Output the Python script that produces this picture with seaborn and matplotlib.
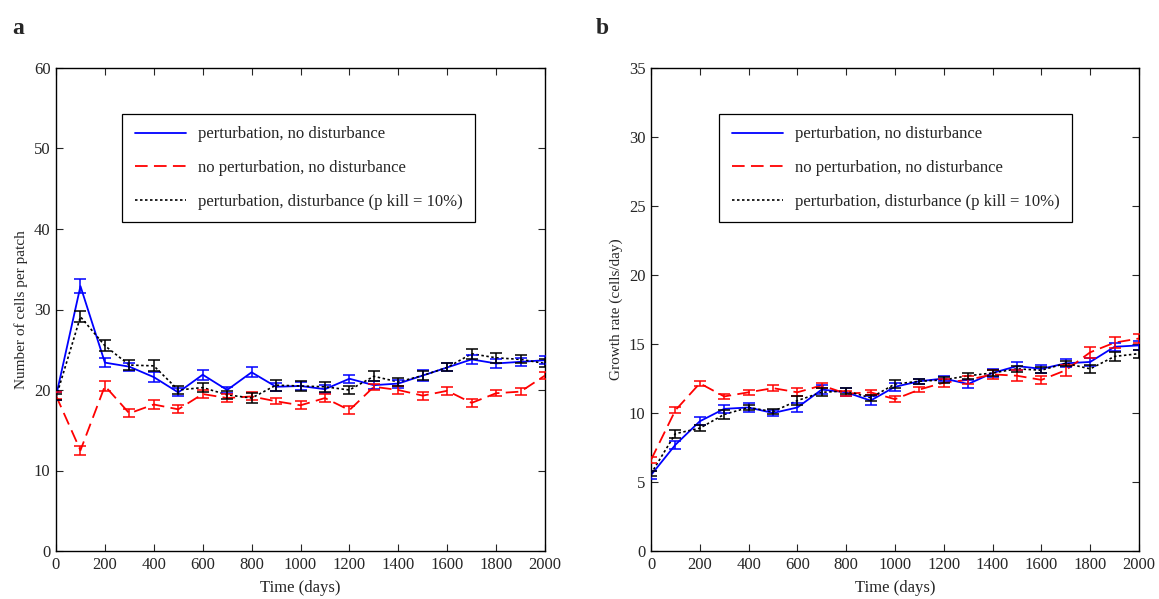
import numpy as np
import pandas as pd
import matplotlib
matplotlib.use("Agg")
import matplotlib.pyplot as plt
import seaborn as sns

days = [0, 100, 200, 300, 400, 500, 600, 700, 800, 900, 1000,
        1100, 1200, 1300, 1400, 1500, 1600, 1700, 1800, 1900, 2000]

labels = ["perturbation, no disturbance",
          "no perturbation, no disturbance",
          "perturbation, disturbance (p kill = 10%)"]

# Panel a: number of cells per patch
a_blue = [19.2, 32.9, 23.4, 22.9, 21.6, 19.7, 21.9, 20.0, 22.2, 20.4, 20.5,
          20.1, 21.4, 20.6, 20.8, 21.8, 22.8, 23.8, 23.3, 23.5, 23.7]
a_red = [19.3, 12.5, 20.5, 17.1, 18.2, 17.6, 19.5, 19.0, 19.2, 18.6, 18.1,
         19.0, 17.5, 20.4, 20.0, 19.3, 19.9, 18.4, 19.6, 19.8, 21.8]
a_black = [19.1, 29.1, 25.5, 23.1, 23.0, 20.0, 20.3, 19.4, 19.0, 20.6, 20.5,
           20.4, 20.0, 21.7, 21.0, 21.8, 22.8, 24.5, 24.0, 23.8, 23.3]
a_blue_err = [0.5, 0.9, 0.6, 0.5, 0.6, 0.5, 0.6, 0.4, 0.6, 0.5, 0.5,
              0.5, 0.5, 0.5, 0.5, 0.7, 0.5, 0.6, 0.6, 0.5, 0.5]
a_red_err = [0.4, 0.6, 0.6, 0.5, 0.5, 0.5, 0.5, 0.5, 0.5, 0.4, 0.5,
             0.5, 0.5, 0.4, 0.5, 0.5, 0.5, 0.5, 0.4, 0.4, 0.4]
a_black_err = [0.4, 0.7, 0.7, 0.6, 0.7, 0.5, 0.6, 0.5, 0.6, 0.7, 0.6,
               0.6, 0.5, 0.6, 0.5, 0.6, 0.5, 0.6, 0.6, 0.5, 0.5]

# Panel b: growth rate (cells/day)
b_blue = [5.5, 7.7, 9.4, 10.3, 10.4, 10.0, 10.4, 11.7, 11.5, 10.9, 11.9,
          12.3, 12.5, 12.1, 12.9, 13.4, 13.2, 13.6, 13.7, 14.8, 14.9]
b_red = [6.6, 10.2, 12.15, 11.2, 11.5, 11.8, 11.5, 12.0, 11.4, 11.5, 11.0,
         11.7, 12.2, 12.4, 12.8, 12.7, 12.4, 13.1, 14.4, 15.1, 15.4]
b_black = [5.6, 8.5, 8.9, 9.9, 10.4, 10.1, 10.9, 11.5, 11.6, 11.1, 12.1,
           12.3, 12.4, 12.7, 12.9, 13.2, 13.1, 13.6, 13.2, 14.1, 14.3]
b_blue_err = [0.3, 0.3, 0.3, 0.3, 0.3, 0.2, 0.3, 0.3, 0.3, 0.3, 0.3,
              0.2, 0.2, 0.3, 0.3, 0.3, 0.3, 0.3, 0.3, 0.3, 0.3]
b_red_err = [0.2, 0.2, 0.2, 0.2, 0.2, 0.2, 0.3, 0.2, 0.2, 0.2, 0.2,
             0.2, 0.3, 0.3, 0.3, 0.4, 0.3, 0.4, 0.4, 0.4, 0.3]
b_black_err = [0.2, 0.3, 0.2, 0.3, 0.2, 0.2, 0.3, 0.3, 0.2, 0.2, 0.3,
               0.2, 0.2, 0.2, 0.2, 0.2, 0.2, 0.2, 0.3, 0.3, 0.3]

sns.set_style("ticks")
plt.rcParams['font.family'] = ['Liberation Serif', 'DejaVu Serif']

fig = plt.figure(figsize=(11.59, 5.99), dpi=100)
W, H = 1159, 599
axa = fig.add_axes([56 / W, 1 - 551 / H, (545 - 56) / W, (551 - 68) / H])
axb = fig.add_axes([651 / W, 1 - 551 / H, (1139 - 651) / W, (551 - 68) / H])

styles = [("#0000ff", "-", 1.3), ("#ff0000", (0, (7, 3.5)), 1.3), ("black", (0, (1.5, 1.5)), 1.2)]


def draw(ax, ys, errs, ylim, yticks, ylabel, leg_anchor):
    rows = []
    for lab, y in zip(labels, ys):
        for d, v in zip(days, y):
            rows.append({"Time (days)": d, "value": v, "series": lab})
    df = pd.DataFrame(rows)
    for (col, ls, lw), lab, y, e in zip(styles, labels, ys, errs):
        sub = df[df["series"] == lab]
        sns.lineplot(data=sub, x="Time (days)", y="value", ax=ax, color=col,
                     linestyle=ls, linewidth=lw, label=lab, legend=False)
        ax.errorbar(days, y, yerr=e, fmt="none", ecolor=col, elinewidth=1.1,
                    capsize=4.5, capthick=1.1, zorder=3)
    ax.set_xlim(0, 2000)
    ax.set_ylim(*ylim)
    ax.set_xticks(range(0, 2001, 200))
    ax.set_yticks(yticks)
    ax.set_xlabel("Time (days)", fontsize=12, labelpad=5)
    ax.set_ylabel(ylabel, fontsize=11, labelpad=4)
    ax.tick_params(direction="in", top=True, right=True, length=5,
                   labelsize=12, width=0.8, pad=4)
    for s in ax.spines.values():
        s.set_visible(True)
        s.set_linewidth(1.0)
        s.set_color("black")
    handles, hl = ax.get_legend_handles_labels()
    leg = ax.legend(handles[:3], hl[:3], loc="upper left",
                    bbox_to_anchor=leg_anchor, borderaxespad=0,
                    fontsize=12, frameon=True,
                    fancybox=False, edgecolor="black", framealpha=1,
                    handlelength=3.1, borderpad=0.75, labelspacing=1.05,
                    handletextpad=0.7)
    leg.get_frame().set_linewidth(0.9)


draw(axa, [a_blue, a_red, a_black], [a_blue_err, a_red_err, a_black_err],
     (0, 60), range(0, 61, 10), "Number of cells per patch",
     ((122 - 56) / 489, 1 - (114 - 68) / 483))
draw(axb, [b_blue, b_red, b_black], [b_blue_err, b_red_err, b_black_err],
     (0, 35), range(0, 36, 5), "Growth rate (cells/day)",
     ((719 - 651) / 488, 1 - (114 - 68) / 483))

fig.text(12 / W, 1 - 28 / H, "a", fontsize=17, fontweight="bold", va="center", ha="left")
fig.text(596 / W, 1 - 28 / H, "b", fontsize=17, fontweight="bold", va="center", ha="left")

fig.savefig("out.png", dpi=100)
